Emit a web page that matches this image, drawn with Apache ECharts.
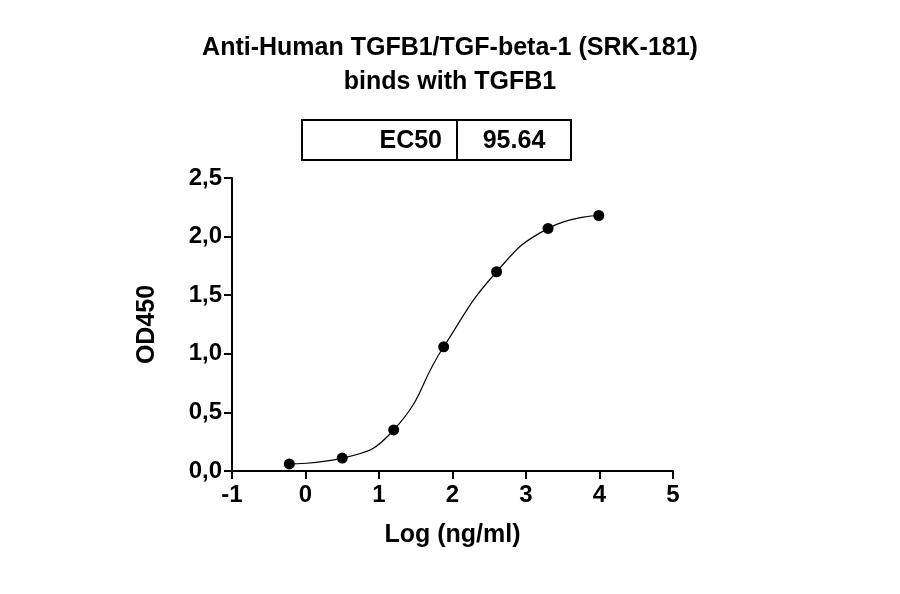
<!DOCTYPE html>
<html>
<head>
<meta charset="UTF-8">
<script src="https://cdn.jsdelivr.net/npm/echarts@6/dist/echarts.min.js"></script>
<style>
    body{margin:0;background:#fff;}
    #main{width:900px;height:594px;}
</style>
</head>
<body>
<div id="main"></div>
<script>
    // log concentration vs OD450
    const logConc = [-0.22, 0.5, 1.2, 1.88, 2.6, 3.3, 3.99];
    const od450 = [0.06, 0.11, 0.35, 1.06, 1.70, 2.07, 2.18];
    const xTicks = [-1, 0, 1, 2, 3, 4, 5];
    const yTicks = [0, 0.5, 1, 1.5, 2, 2.5];
    const ec50 = '95.64';

    const pts = logConc.map((x, i) => [x, od450[i]]);
    const font = 'Liberation Sans, Arial, sans-serif';
    let chart = echarts.init(document.getElementById('main'));

    chart.setOption({
        backgroundColor: '#fff',
        animation: false,
        title: {
            text: 'Anti-Human TGFB1/TGF-beta-1 (SRK-181)\nbinds with TGFB1',
            left: 'center', top: 26,
            textStyle: {fontFamily: font, fontSize: 25, fontWeight: 'bold', color: '#000', lineHeight: 34}
        },
        grid: {left: 232, right: 227, top: 178, bottom: 123},
        xAxis: {
            type: 'value', min: -1, max: 5, interval: 1,
            name: 'Log (ng/ml)', nameLocation: 'middle', nameGap: 52,
            nameTextStyle: {fontFamily: font, fontSize: 25, fontWeight: 'bold', color: '#000'},
            axisLine: {lineStyle: {color: '#000', width: 2}},
            axisTick: {length: 8, lineStyle: {color: '#000', width: 2}},
            axisLabel: {fontFamily: font, fontSize: 24, fontWeight: 'bold', color: '#000', margin: 12,
                formatter: v => xTicks.includes(v) ? String(v) : ''},
            splitLine: {show: false}
        },
        yAxis: {
            type: 'value', min: 0, max: 2.5, interval: 0.5,
            name: 'OD450', nameLocation: 'middle', nameGap: 72,
            nameTextStyle: {fontFamily: font, fontSize: 25, fontWeight: 'bold', color: '#000'},
            axisLine: {show: true, onZero: false, lineStyle: {color: '#000', width: 2}},
            axisTick: {show: true, length: 8, lineStyle: {color: '#000', width: 2}},
            axisLabel: {fontFamily: font, fontSize: 24, fontWeight: 'bold', color: '#000', margin: 10,
                formatter: v => yTicks.includes(v) ? v.toFixed(1).replace('.', ',') : ''},
            splitLine: {show: false}
        },
        series: [
            {type: 'line', data: pts, smooth: 0.5, showSymbol: false,
                lineStyle: {color: '#000', width: 1.2}},
            {type: 'scatter', data: pts, symbolSize: 11, itemStyle: {color: '#000', opacity: 1}}
        ],
        graphic: [
            {type: 'rect', shape: {x: 302, y: 120, width: 269, height: 40},
                style: {fill: '#fff', stroke: '#000', lineWidth: 2}},
            {type: 'line', shape: {x1: 457, y1: 120, x2: 457, y2: 160},
                style: {stroke: '#000', lineWidth: 2}},
            {type: 'text', x: 442, y: 141, style: {text: 'EC50', align: 'right', verticalAlign: 'middle',
                font: 'bold 25px ' + font, fill: '#000'}},
            {type: 'text', x: 514, y: 141, style: {text: ec50, align: 'center', verticalAlign: 'middle',
                font: 'bold 25px ' + font, fill: '#000'}}
        ]
    });
</script>
</body>
</html>
